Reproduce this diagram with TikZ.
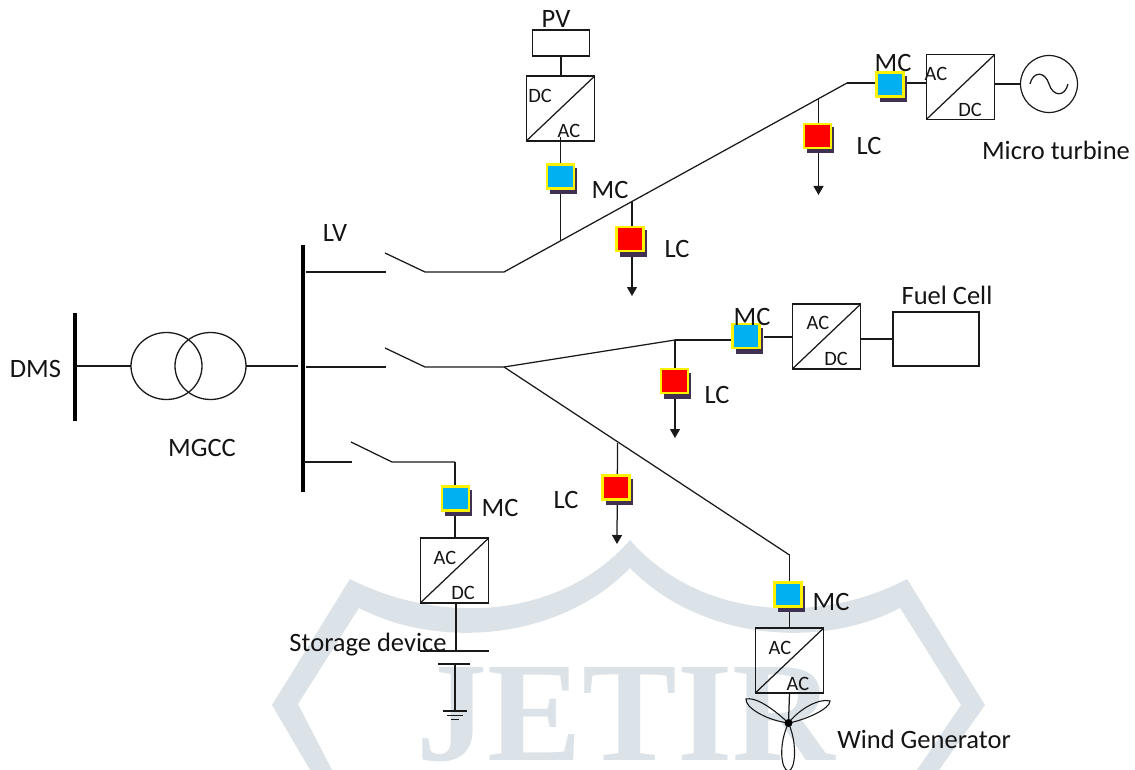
\documentclass[tikz,border=0pt]{standalone}
\usepackage{fontspec}
\setmainfont{Carlito}
\newfontfamily\wmfont{Liberation Serif}
\usetikzlibrary{arrows.meta,shapes.geometric}
\definecolor{wm}{RGB}{220,227,232}
\definecolor{shad}{RGB}{64,49,82}
\definecolor{mcblue}{RGB}{0,176,240}
\definecolor{ln}{RGB}{25,25,25}
\tikzset{
 x=1pt,y=-1pt,
 wire/.style={draw=ln,line width=1.25pt},
 loadwire/.style={wire,-{Triangle[length=9pt,width=10pt]}},
 bus/.style={draw=black,line width=4pt},
 boxn/.style={draw=ln,line width=1.25pt,rectangle,inner sep=0pt,outer sep=0pt},
 conv/.style={boxn,minimum width=68.5pt,minimum height=65pt},
 winding/.style={draw=ln,line width=1.3pt,ellipse,inner sep=0pt,outer sep=0pt,minimum width=71pt,minimum height=67pt},
 lab/.style={font=\fontsize{26.5}{26.5}\selectfont,inner sep=0pt,text=black!92},
 slab/.style={font=\fontsize{20.4}{20.4}\selectfont,inner sep=0pt,text=black!92},
 mcbox/.style={draw=yellow,line width=2.2pt,fill=mcblue,minimum width=27pt,minimum height=24pt,inner sep=0pt,outer sep=0pt,rectangle},
 lcbox/.style={mcbox,fill=red},
 shadowbox/.style={fill=shad,draw=none,minimum width=27pt,minimum height=26pt,inner sep=0pt,rectangle},
}
\newcommand{\ctrlbox}[4]{%
 \node[shadowbox] (#1s) at (#2+3,#3+4.5) {};
 \node[#4] (#1) at (#2,#3) {};
}
\begin{document}
\begin{tikzpicture}
\useasboundingbox (0,0) rectangle (1135,770);
% ---- watermark
\fill[wm] (272,705) -- (350,579) .. controls (440,625) and (560,620) .. (630,540)
  .. controls (700,620) and (820,625) .. (907,579) -- (985,705) -- (939,770) -- (917,770)
  -- (961,705) -- (900,608) .. controls (820,650) and (700,640) .. (630,568)
  .. controls (560,640) and (440,650) .. (359,608) -- (298,704) -- (332,770) -- (310,770) -- cycle;
\node[anchor=base,inner sep=0pt,text=wm,font=\wmfont\bfseries\fontsize{142}{142}\selectfont] (wmtext) at (626,760) {JETIR};
% ---- buses
\coordinate (lvt) at (303,245); \coordinate (lvb) at (303,492);
\coordinate (dmt) at (74.5,313); \coordinate (dmb) at (74.5,421);
\draw[bus] (lvt) -- (lvb);
\draw[bus] (dmt) -- (dmb);
% ---- transformer
\coordinate (dmj) at (76,366); \coordinate (lvj) at (298,366);
\node[winding] (t1) at (166.5,366) {};
\node[winding] (t2) at (210.5,366) {};
\draw[wire] (dmj) -- (t1.west);
\draw[wire] (t2.east) -- (lvj);
% ---- top feeder
\coordinate (a0) at (306,272); \coordinate (a1) at (386,272); \coordinate (a2) at (385,253);
\coordinate (a3) at (425,272); \coordinate (a4) at (504,272); \coordinate (a5) at (847,83);
\draw[wire] (a0) -- (a1);
\draw[wire] (a2) -- (a3) -- (a4) -- (a5);
% PV branch
\node[boxn,minimum width=57pt,minimum height=26pt] (pv) at (561,43) {};
\node[conv] (c1) at (560.5,108.5) {};
\draw[wire] (c1.south west) -- (c1.north east);
\draw[wire] (pv.south) -- (pv.south |- c1.north);
\coordinate (pj) at (560.5,240);
\coordinate (c1j) at (560.5,137);
\draw[wire] (c1j) -- (pj);
\ctrlbox{mc1}{560.5}{176.5}{mcbox}
% LC1
\coordinate (l1a) at (632,202); \coordinate (l1b) at (632,296);
\draw[loadwire] (l1a) -- (l1b);
\ctrlbox{lc1}{630}{239}{lcbox}
% LC2
\coordinate (l2a) at (818.5,98); \coordinate (l2b) at (818.5,195);
\draw[loadwire] (l2a) -- (l2b);
\ctrlbox{lc2}{817.5}{136}{lcbox}
% Micro turbine branch
\node[conv] (c2) at (960.5,87) {};
\draw[wire] (c2.south west) -- (c2.north east);
\node[draw=ln,line width=1.2pt,circle,minimum size=57pt,inner sep=0pt,outer sep=0pt] (gen) at (1049,84) {};
\draw[wire] (a5) -- (c2.west |- a5);
\draw[wire] (c2.east |- gen.west) -- (gen.west);
\ctrlbox{mc2}{890}{84.5}{mcbox}
\coordinate (s1) at (1030,84); \coordinate (s2) at (1049,84); \coordinate (s3) at (1068,84);
\draw[wire] (s1) .. controls (1033,71) and (1045,71) .. (s2) .. controls (1053,97) and (1065,97) .. (s3);
% ---- middle feeder
\coordinate (b0) at (306,367); \coordinate (b1) at (386,367); \coordinate (b2) at (385,348);
\coordinate (b3) at (425,367); \coordinate (b4) at (504,367); \coordinate (b5) at (675,340);
\draw[wire] (b0) -- (b1);
\draw[wire] (b2) -- (b3) -- (b4) -- (b5);
\node[conv] (c3) at (826.5,336.5) {};
\draw[wire] (c3.south west) -- (c3.north east);
\node[boxn,minimum width=86pt,minimum height=54pt] (fc) at (936,339) {};
\coordinate (c3l) at (764,337); \coordinate (b6) at (732,340);
\draw[wire] (b5) -- (b6);
\draw[wire] (c3l) -- (c3.west |- c3l);
\draw[wire] (c3.east |- fc.west) -- (fc.west);
\ctrlbox{mc3}{746}{336}{mcbox}
\coordinate (l3b) at (675,438);
\draw[loadwire] (b5) -- (l3b);
\ctrlbox{lc3}{674.5}{381}{lcbox}
% diagonal to wind
\coordinate (w1) at (789.5,555);
\draw[wire] (b4) -- (w1);
\node[conv] (c4) at (789.5,660.5) {};
\draw[wire] (c4.south west) -- (c4.north east);
\draw[wire] (w1) -- (c4.north);
\ctrlbox{mc4}{788}{594.5}{mcbox}
\coordinate (l4a) at (617.5,443); \coordinate (l4b) at (617,544);
\draw[loadwire] (l4a) -- (l4b);
\ctrlbox{lc4}{616}{487.5}{lcbox}
% wind turbine
\coordinate (hub) at (788.5,723);
\draw[wire] (c4.south) -- (hub);
\draw[draw=ln,line width=1.1pt] (hub) .. controls (778,745) and (781,770) .. (788.5,771) .. controls (795,770) and (798,745) .. (hub);
\draw[draw=ln,line width=1.1pt] (hub) .. controls (770,706) and (755,697) .. (746,699) .. controls (745,707) and (765,720) .. (hub);
\draw[draw=ln,line width=1.1pt] (hub) .. controls (805,720) and (830,709) .. (830,701) .. controls (820,698) and (800,708) .. (hub);
\fill[black] (hub) circle (4);
% ---- lower feeder
\coordinate (e0) at (304,462); \coordinate (e1) at (352,462); \coordinate (e2) at (351,442);
\coordinate (e3) at (392,462); \coordinate (e4) at (455,462);
\draw[wire] (e0) -- (e1);
\draw[wire] (e2) -- (e3) -- (e4);
\node[conv] (c5) at (454.5,570.5) {};
\draw[wire] (c5.south west) -- (c5.north east);
\draw[wire] (e4) -- (e4 |- c5.north);
\ctrlbox{mc5}{455.5}{498.5}{mcbox}
% battery
\coordinate (p1l) at (420,651); \coordinate (p1r) at (489,651); \coordinate (p1j) at (456,651);
\coordinate (p2l) at (438,664); \coordinate (p2r) at (470,664); \coordinate (p2j) at (455,664);
\coordinate (g1) at (455,711);
\draw[wire] (p1j |- c5.south) -- (p1j);
\draw[wire] (p1l) -- (p1r);
\draw[wire] (p2l) -- (p2r);
\draw[wire] (p2j) -- (g1);
\draw[wire] (443,711) -- (467,711);
\draw[wire] (447,715.5) -- (463,715.5);
\draw[wire] (451,719.5) -- (459,719.5);
% ---- labels
\node[lab] (tdms) at (35.5,369) {DMS};
\node[lab] (tmgcc) at (202,448) {MGCC};
\node[lab] (tlv) at (335,233) {LV};
\node[lab] (tpv) at (556,19) {PV};
\node[lab] (tmc1) at (610,190) {MC};
\node[lab] (tlc1) at (677,249) {LC};
\node[lab] (tmc2) at (893,63) {MC};
\node[lab] (tlc2) at (869,146) {LC};
\node[lab] (tmt) at (1056,150) {Micro turbine};
\node[lab] (tmc3) at (752,317) {MC};
\node[lab] (tlc3) at (717,395) {LC};
\node[lab] (tfc) at (947,295) {Fuel Cell};
\node[lab] (tmc4) at (831,602) {MC};
\node[lab] (tlc4) at (566,500) {LC};
\node[lab] (tmc5) at (500,508) {MC};
\node[lab] (tsd) at (368,645) {Storage device};
\node[lab] (twg) at (924,739) {Wind Generator};
\node[slab] (dc1) at (540,96) {DC};
\node[slab] (ac1) at (569,131) {AC};
\node[slab] (ac2) at (936,74) {AC};
\node[slab] (dc2) at (970,110) {DC};
\node[slab] (ac3) at (818,323) {AC};
\node[slab] (dc3) at (836,359) {DC};
\node[slab] (ac4) at (780,648) {AC};
\node[slab] (ac5) at (798,684) {AC};
\node[slab] (ac6) at (445,558) {AC};
\node[slab] (dc6) at (463,593) {DC};
\end{tikzpicture}
\end{document}
